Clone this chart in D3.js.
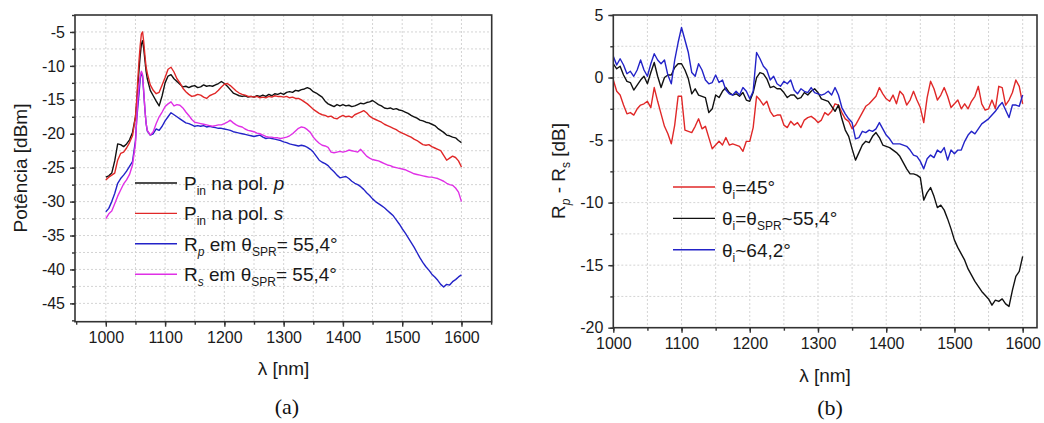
<!DOCTYPE html>
<html>
<head>
<meta charset="utf-8">
<script src="https://cdn.jsdelivr.net/npm/d3@7"></script>
<style>
  html, body { margin: 0; padding: 0; background: #fff; }
  svg { display: block; font-family: "Liberation Sans", Arial, sans-serif; }
</style>
</head>
<body>
<script>
// ---------- (a) input power and reflected power spectra ----------
const wlA = [...d3.range(1000, 1050, 5), ...d3.range(1050, 1071, 2), ...d3.range(1075, 1601, 5)];

const pinP = [
  -26.4,-26.2,-25.8,-24.0,-21.5,-21.6,-21.9,-21.5,-20.9,-19.8,
  -17.5,-15.6,-13.0,-10.6,-8.5,-6.8,-6.3,-7.5,-9.2,-10.8,-11.9,
  -13.6,-14.4,-15.2,-15.9,-14.4,-12.5,-11.5,-11.3,-11.9,-12.3,
  -12.7,-13.1,-13.0,-13.2,-13.0,-12.9,-13.2,-13.1,-12.8,-13.0,
  -12.9,-13.0,-12.8,-12.6,-12.3,-12.6,-13.0,-13.5,-14.0,-14.2,
  -14.4,-14.5,-14.4,-14.6,-14.5,-14.6,-14.4,-14.5,-14.3,-14.5,
  -14.2,-14.4,-14.1,-14.2,-14.0,-14.2,-13.9,-13.8,-13.9,-13.6,
  -13.7,-13.5,-13.4,-13.2,-13.4,-13.8,-14.0,-14.3,-14.6,-15.2,
  -15.6,-15.8,-16.0,-15.7,-15.9,-15.7,-15.9,-15.8,-16.0,-15.9,
  -15.7,-15.5,-15.6,-15.4,-15.3,-15.1,-15.4,-15.7,-15.9,-16.2,
  -16.3,-16.2,-16.4,-16.3,-16.5,-16.6,-16.8,-17.0,-17.3,-17.5,
  -17.7,-18.0,-18.1,-18.3,-18.4,-18.6,-18.8,-19.2,-19.5,-19.8,
  -20.2,-20.3,-20.5,-20.6,-21.0,-21.3
];

const pinS = [
  -26.8,-26.4,-26.1,-25.8,-23.9,-22.9,-22.7,-22.1,-21.3,-20.3,
  -17.5,-15.1,-12.0,-9.2,-7.0,-5.3,-5.0,-6.5,-8.5,-10.2,-11.1,
  -12.8,-13.6,-14.1,-13.9,-12.8,-11.7,-10.5,-10.2,-10.9,-11.9,
  -12.5,-13.3,-13.8,-14.2,-14.5,-14.4,-14.2,-14.3,-14.6,-14.8,
  -14.4,-14.2,-14.0,-13.6,-13.1,-12.7,-12.6,-12.9,-13.3,-13.7,
  -14.0,-14.2,-14.3,-14.5,-14.5,-14.6,-14.5,-14.7,-14.6,-14.7,
  -14.5,-14.6,-14.4,-14.5,-14.5,-14.6,-14.5,-14.7,-14.6,-14.8,
  -14.8,-15.0,-15.3,-15.6,-16.0,-16.4,-16.7,-17.0,-17.2,-17.3,
  -17.5,-17.4,-17.7,-17.8,-17.5,-17.3,-17.5,-17.4,-17.6,-17.2,
  -17.0,-16.8,-16.6,-16.9,-17.4,-17.7,-17.9,-18.1,-18.3,-18.6,
  -18.8,-19.0,-19.2,-19.4,-19.7,-19.9,-20.1,-20.3,-20.5,-20.8,
  -21.0,-21.3,-21.6,-21.7,-21.6,-21.9,-22.1,-22.3,-22.5,-23.2,
  -23.9,-23.6,-23.3,-23.5,-24.0,-24.9
];

const reflP = [
  -31.5,-31.0,-30.0,-28.8,-27.3,-26.6,-26.1,-25.5,-24.8,-24.1,
  -21.0,-18.0,-16.0,-14.1,-12.0,-11.0,-11.5,-14.0,-16.5,-18.5,-19.6,
  -20.2,-20.0,-19.3,-19.5,-18.9,-18.1,-17.5,-16.9,-17.2,-17.5,
  -17.8,-18.1,-18.4,-18.5,-18.7,-18.9,-18.8,-18.9,-18.8,-19.0,
  -18.9,-19.0,-19.1,-19.2,-19.2,-19.3,-19.4,-19.5,-19.7,-19.8,
  -19.9,-20.0,-20.1,-20.2,-20.3,-20.4,-20.3,-20.2,-20.5,-20.7,
  -20.6,-20.7,-20.8,-20.9,-21.0,-21.2,-21.3,-21.5,-21.6,-21.7,
  -21.8,-21.7,-21.8,-22.0,-22.3,-22.7,-23.3,-23.9,-24.2,-24.4,
  -24.7,-25.2,-25.6,-26.1,-26.5,-26.4,-26.3,-26.6,-27.0,-27.3,
  -27.5,-27.8,-28.2,-28.7,-29.1,-29.6,-30.0,-30.3,-30.6,-30.9,
  -31.3,-31.7,-32.1,-32.7,-33.3,-34.0,-34.6,-35.3,-36.0,-36.7,
  -37.5,-38.3,-39.0,-39.6,-40.1,-40.7,-41.1,-41.6,-42.2,-42.6,
  -42.2,-42.3,-41.8,-41.5,-41.1,-40.8
];

const reflS = [
  -32.5,-31.8,-31.4,-30.3,-29.2,-28.3,-27.4,-26.8,-26.0,-24.6,
  -21.5,-18.0,-15.0,-13.0,-11.5,-10.8,-11.3,-13.8,-16.5,-18.5,-19.5,
  -20.2,-19.7,-18.5,-17.5,-16.8,-16.0,-15.6,-15.3,-15.9,-15.7,
  -15.8,-16.2,-16.8,-17.3,-17.9,-18.3,-18.4,-18.5,-18.6,-18.7,
  -18.8,-18.9,-18.8,-18.7,-18.7,-18.5,-18.3,-18.0,-18.4,-18.7,
  -18.9,-19.0,-19.3,-19.5,-19.6,-19.7,-19.9,-20.0,-20.2,-20.4,
  -20.5,-20.5,-20.6,-20.6,-20.7,-20.6,-20.5,-20.3,-20.0,-19.6,
  -19.2,-19.0,-19.1,-19.4,-19.8,-20.5,-21.0,-21.4,-21.7,-21.8,
  -22.0,-22.7,-22.8,-22.7,-22.6,-22.7,-22.6,-22.4,-22.5,-22.6,
  -22.7,-22.3,-22.8,-23.3,-23.6,-23.8,-23.9,-24.0,-24.2,-24.4,
  -24.6,-24.7,-24.9,-25.0,-25.1,-25.2,-25.3,-25.5,-25.7,-25.9,
  -26.0,-26.1,-26.2,-26.3,-26.4,-26.4,-26.5,-26.6,-26.8,-27.0,
  -27.3,-27.5,-27.6,-28.0,-28.6,-30.0
];

// ---------- (b) Rp - Rs for three incidence angles ----------
const wlB = d3.range(1000, 1601, 5);

const diff45 = [
  -0.2,-1.1,-1.4,-2.2,-2.9,-2.8,-3.0,-2.5,-2.2,-2.1,
  -1.9,-2.4,-0.8,-1.9,-2.9,-3.9,-4.5,-5.3,-3.8,-1.5,
  -1.5,-4.2,-4.3,-4.4,-3.9,-3.3,-4.1,-3.9,-4.8,-5.7,
  -5.4,-5.1,-5.4,-4.8,-5.4,-5.3,-5.4,-5.5,-5.9,-5.1,
  -5.1,-4.0,-1.5,-1.8,-2.2,-1.9,-2.7,-3.1,-3.0,-3.0,
  -3.8,-4.0,-3.5,-3.8,-3.6,-4.0,-3.4,-3.2,-3.1,-3.3,
  -3.6,-3.4,-2.8,-3.0,-2.7,-2.1,-2.2,-2.8,-3.3,-3.5,
  -4.1,-3.8,-3.3,-2.8,-2.3,-2.1,-1.8,-1.5,-0.8,-1.3,
  -1.7,-1.9,-1.4,-2.1,-1.1,-1.4,-2.2,-1.8,-1.1,-1.8,
  -2.4,-3.6,-1.6,-0.3,-0.9,-1.8,-1.4,-0.8,-1.5,-2.4,
  -2.1,-1.8,-2.5,-2.1,-2.5,-1.9,-1.5,-0.7,-2.1,-2.6,
  -2.5,-1.8,-2.5,-0.7,-0.8,-2.2,-1.8,-1.2,-0.2,-0.7,
  -2.1
];

const diffSPR = [
  1.1,0.7,0.9,0.2,-0.3,-0.4,-1.0,-0.6,-0.2,0.1,
  -0.5,0.4,1.2,0.1,-0.8,0.0,0.2,0.2,0.8,1.1,
  1.1,0.6,-0.1,-1.3,-0.9,-1.4,-1.5,-1.6,-2.8,-2.5,
  -1.4,-1.6,-1.1,-0.8,-1.2,-1.4,-1.3,-1.5,-1.2,-1.8,
  -1.9,-1.2,0.0,0.4,0.3,-0.1,-0.8,-0.7,-0.9,-0.9,
  -1.2,-1.6,-1.4,-1.4,-1.7,-1.6,-1.2,-1.4,-1.1,-0.9,
  -1.2,-1.7,-1.8,-1.9,-2.3,-2.7,-2.2,-3.3,-4.2,-4.7,
  -5.7,-6.6,-6.0,-5.4,-5.1,-5.2,-4.7,-4.4,-4.8,-5.4,
  -5.5,-5.6,-5.8,-6.0,-6.3,-6.8,-7.3,-7.7,-7.7,-7.8,
  -8.0,-9.8,-9.2,-8.8,-9.5,-10.4,-10.2,-10.6,-11.3,-12.1,
  -13.0,-13.6,-14.1,-14.6,-15.3,-15.8,-16.3,-16.7,-17.1,-17.4,
  -17.7,-18.2,-17.8,-17.9,-17.7,-18.1,-18.3,-17.0,-15.9,-15.5,
  -14.3
];

const diff64 = [
  1.7,1.0,1.5,1.0,0.3,0.5,0.1,0.6,1.4,0.6,
  0.1,1.1,1.9,1.4,1.1,1.4,0.2,-0.5,1.4,2.8,
  4.0,3.0,2.0,0.4,0.1,1.1,0.6,-0.2,-0.5,-0.4,
  0.2,-0.4,-0.2,-1.0,-1.3,-1.4,-1.1,-1.4,-0.8,-1.1,
  -1.7,-1.1,2.0,1.5,0.9,0.6,-0.2,0.1,-0.5,-0.7,
  -0.3,-0.5,-0.2,-1.0,-1.3,-0.9,-1.1,-1.2,-0.8,-1.2,
  -1.3,-1.4,-1.3,-1.1,-1.4,-0.8,-1.4,-2.4,-2.9,-3.3,
  -3.6,-4.9,-4.8,-4.3,-4.4,-4.2,-4.3,-4.1,-3.6,-4.1,
  -4.6,-4.9,-5.3,-5.3,-5.3,-5.4,-5.5,-5.8,-6.2,-6.3,
  -6.7,-7.3,-6.5,-6.2,-6.4,-5.8,-6.0,-5.6,-6.6,-5.8,
  -6.1,-5.8,-5.8,-5.1,-4.6,-4.3,-4.5,-4.1,-3.7,-3.5,
  -3.3,-3.0,-2.7,-2.3,-2.0,-2.6,-3.2,-2.2,-2.2,-2.3,
  -1.4
];

// tick values
const ticksXA = [1000, 1100, 1200, 1300, 1400, 1500, 1600];
const ticksYA = [-45, -40, -35, -30, -25, -20, -15, -10, -5];
const ticksXB = [1000, 1100, 1200, 1300, 1400, 1500, 1600];
const ticksYB = [-20, -15, -10, -5, 0, 5];

const svg = d3.select("body").append("svg")
  .attr("width", 1044).attr("height", 423);
svg.append("rect").attr("width", 1044).attr("height", 423).attr("fill", "#fff");

const TEXT = "#1a1a1a";

function drawPanel(o) {
  const g = svg.append("g");
  const x = d3.scaleLinear().domain(o.xDom).range([o.left, o.right]);
  const y = d3.scaleLinear().domain(o.yDom).range([o.bottom, o.top]);

  const xMinor = d3.range(Math.ceil(o.xDom[0] / 50) * 50, o.xDom[1] + 0.01, 50);
  const yMinor = d3.range(Math.ceil(o.yDom[0] / 2.5) * 2.5, o.yDom[1] + 0.01, 2.5);

  // dotted grid
  const grid = g.append("g").attr("stroke", "#cfcfcf").attr("stroke-width", 0.9)
    .attr("stroke-dasharray", "2,2");
  grid.selectAll("line.v").data(xMinor.filter(v => x(v) > o.left + 2 && x(v) < o.right - 2))
    .join("line").attr("x1", d => x(d)).attr("x2", d => x(d))
    .attr("y1", o.top).attr("y2", o.bottom);
  grid.selectAll("line.h").data(yMinor.filter(v => y(v) > o.top + 2 && y(v) < o.bottom - 2))
    .join("line").attr("y1", d => y(d)).attr("y2", d => y(d))
    .attr("x1", o.left).attr("x2", o.right);

  // series
  const clipId = "clip" + o.id;
  svg.append("clipPath").attr("id", clipId).append("rect")
    .attr("x", o.left).attr("y", o.top)
    .attr("width", o.right - o.left).attr("height", o.bottom - o.top);
  const line = d3.line().x(d => x(d[0])).y(d => y(d[1]));
  o.series.forEach(s => {
    g.append("path")
      .datum(o.wl.map((w, i) => [w, s.values[i]]))
      .attr("clip-path", `url(#${clipId})`)
      .attr("fill", "none").attr("stroke", s.color)
      .attr("stroke-width", 1.4).attr("stroke-linejoin", "round")
      .attr("d", line);
  });

  // frame
  g.append("rect").attr("x", o.left).attr("y", o.top)
    .attr("width", o.right - o.left).attr("height", o.bottom - o.top)
    .attr("fill", "none").attr("stroke", "#333").attr("stroke-width", 1.6);

  // axes
  const fmt = d => String(d);
  const xMinorAxis = g.append("g").attr("transform", `translate(0,${o.bottom})`)
    .call(d3.axisBottom(x).tickValues(xMinor).tickSize(3).tickFormat(""));
  const xAxis = g.append("g").attr("transform", `translate(0,${o.bottom})`)
    .call(d3.axisBottom(x).tickValues(o.xTicks).tickSize(5).tickPadding(5).tickFormat(fmt));
  const yMinorAxis = g.append("g").attr("transform", `translate(${o.left},0)`)
    .call(d3.axisLeft(y).tickValues(yMinor).tickSize(3).tickFormat(""));
  const yAxis = g.append("g").attr("transform", `translate(${o.left},0)`)
    .call(d3.axisLeft(y).tickValues(o.yTicks).tickSize(5).tickPadding(5).tickFormat(fmt));
  [xMinorAxis, xAxis, yMinorAxis, yAxis].forEach(a => {
    a.select(".domain").remove();
    a.selectAll(".tick line").attr("stroke", "#333").attr("stroke-width", 1.4);
    a.selectAll("text").attr("fill", TEXT).attr("font-size", 16)
      .attr("font-family", "'Liberation Sans', Arial, sans-serif");
  });

  // legend
  o.series.forEach((s, i) => {
    const ly = o.legY + i * o.legStep;
    g.append("line").attr("x1", o.legX).attr("x2", o.legX + 42)
      .attr("y1", ly).attr("y2", ly).attr("stroke", s.color).attr("stroke-width", 1.4);
    const t = g.append("text").attr("x", o.legX + 49).attr("y", ly + 7)
      .attr("font-size", 19).attr("fill", TEXT);
    s.label.forEach(part => {
      const sp = t.append("tspan").text(part.t);
      if (part.sub) sp.attr("font-size", 12).attr("dy", 5);
      if (part.up) sp.attr("dy", -5);
      if (part.it) sp.attr("font-style", "italic");
    });
  });
  return { x, y };
}

drawPanel({
  id: "a", left: 75, right: 491.7, top: 15, bottom: 321.7,
  xDom: [948, 1651], yDom: [-47.7, -2.5],
  xTicks: ticksXA, yTicks: ticksYA, wl: wlA,
  legX: 135, legY: 183, legStep: 30.4,
  series: [
    { values: pinP, color: "#111111",
      label: [{t: "P"}, {t: "in", sub: true}, {t: " na pol. ", up: true}, {t: "p", it: true}] },
    { values: pinS, color: "#e02828",
      label: [{t: "P"}, {t: "in", sub: true}, {t: " na pol. ", up: true}, {t: "s", it: true}] },
    { values: reflP, color: "#2323c8",
      label: [{t: "R"}, {t: "p", sub: true, it: true}, {t: " em θ", up: true}, {t: "SPR", sub: true}, {t: "= 55,4°", up: true}] },
    { values: reflS, color: "#e030e6",
      label: [{t: "R"}, {t: "s", sub: true, it: true}, {t: " em θ", up: true}, {t: "SPR", sub: true}, {t: "= 55,4°", up: true}] }
  ]
});

drawPanel({
  id: "b", left: 613.3, right: 1037, top: 15, bottom: 327.7,
  xDom: [1000, 1621], yDom: [-20, 5],
  xTicks: ticksXB, yTicks: ticksYB, wl: wlB,
  legX: 673, legY: 187, legStep: 31.4,
  series: [
    { values: diff45, color: "#e02828",
      label: [{t: "θ"}, {t: "i", sub: true}, {t: "=45°", up: true}] },
    { values: diffSPR, color: "#111111",
      label: [{t: "θ"}, {t: "i", sub: true}, {t: "=θ", up: true}, {t: "SPR", sub: true}, {t: "~55,4°", up: true}] },
    { values: diff64, color: "#2323c8",
      label: [{t: "θ"}, {t: "i", sub: true}, {t: "~64,2°", up: true}] }
  ]
});

// axis titles
const lab = svg.append("g").attr("fill", TEXT).attr("font-size", 19);
lab.append("text").attr("text-anchor", "middle")
  .attr("transform", "translate(27,168) rotate(-90)").text("Potência [dBm]");
lab.append("text").attr("x", 283.5).attr("y", 375).attr("text-anchor", "middle").text("λ [nm]");
lab.append("text").attr("x", 825).attr("y", 382).attr("text-anchor", "middle").text("λ [nm]");
const yb = lab.append("text").attr("text-anchor", "middle")
  .attr("transform", "translate(565,171) rotate(-90)");
yb.append("tspan").text("R");
yb.append("tspan").text("p").attr("font-size", 12).attr("font-style", "italic").attr("dy", 5);
yb.append("tspan").text(" - R").attr("dy", -5);
yb.append("tspan").text("s").attr("font-size", 12).attr("dy", 5);
yb.append("tspan").text(" [dB]").attr("dy", -5);

// panel captions
const cap = svg.append("g").attr("fill", "#111").attr("font-size", 22)
  .attr("font-family", "'Liberation Serif', 'Times New Roman', serif")
  .attr("text-anchor", "middle");
cap.append("text").attr("x", 287).attr("y", 414).text("(a)");
cap.append("text").attr("x", 830).attr("y", 415).text("(b)");
</script>
</body>
</html>
